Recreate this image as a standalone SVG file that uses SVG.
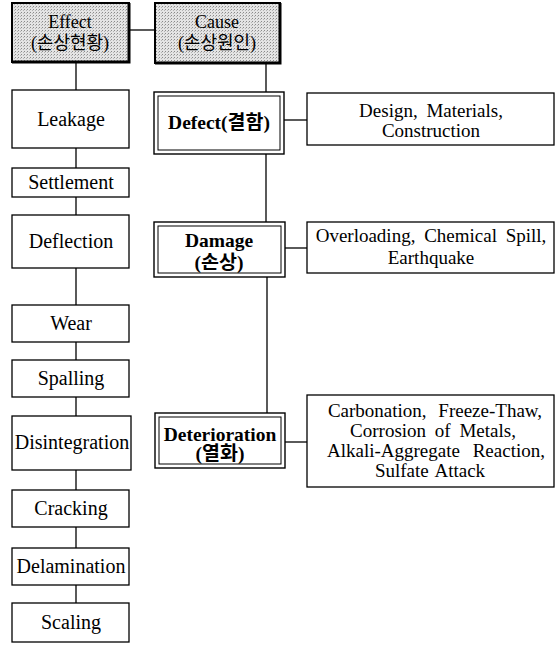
<svg xmlns="http://www.w3.org/2000/svg" width="560" height="651" viewBox="0 0 560 651">
<defs>
<pattern id="dots" width="3" height="3" patternUnits="userSpaceOnUse">
<rect width="3" height="3" fill="#e4e4e4"/>
<rect x="0" y="0" width="1" height="1" fill="#8a8a8a"/>
<rect x="2" y="1" width="1" height="1" fill="#b4b4b4"/>
</pattern>
</defs>
<style>
text{font-family:"Liberation Serif","Noto Sans CJK KR",serif;fill:#000;text-anchor:middle}
.t{font-size:20px}
.b{font-size:19.5px;font-weight:bold}
.r{font-size:19px;word-spacing:4px}
.h{font-size:18px}
.box{fill:#fff;stroke:#000;stroke-width:1.3}
.hdr{fill:url(#dots);stroke:#000;stroke-width:2}
.sh{stroke:#000;stroke-width:3;fill:none}
.dbl{fill:#fff;stroke:#000;stroke-width:1.4}
.in{fill:none;stroke:#000;stroke-width:1}
.c{stroke:#000;stroke-width:1.3;fill:none}
</style>
<g id="connectors">
<line class="c" x1="129" y1="30" x2="155" y2="30"/>
<line class="c" x1="76" y1="62" x2="76" y2="90"/>
<line class="c" x1="76" y1="148" x2="76" y2="168"/>
<line class="c" x1="76" y1="197" x2="76" y2="215"/>
<line class="c" x1="76" y1="268" x2="76" y2="305"/>
<line class="c" x1="76" y1="342" x2="76" y2="360"/>
<line class="c" x1="76" y1="397" x2="76" y2="416"/>
<line class="c" x1="76" y1="470" x2="76" y2="490"/>
<line class="c" x1="76" y1="527" x2="76" y2="548"/>
<line class="c" x1="76" y1="585" x2="76" y2="603"/>
<line class="c" x1="266" y1="63" x2="266" y2="92"/>
<line class="c" x1="266" y1="154" x2="266" y2="222"/>
<line class="c" x1="267" y1="277" x2="267" y2="413"/>
<line class="c" x1="284" y1="120" x2="307" y2="120"/>
<line class="c" x1="285" y1="248" x2="307" y2="248"/>
<line class="c" x1="285" y1="442" x2="307" y2="442"/>
</g>
<g id="effect">
<rect class="hdr" x="12" y="3" width="117" height="59"/>
<polyline class="sh" points="129,3 129,62 12,62"/>
<text class="h" x="70" y="28">Effect</text>
<text class="h" x="70" y="49">(손상현황)</text>
</g>
<g id="cause">
<rect class="hdr" x="155" y="3" width="125" height="60"/>
<polyline class="sh" points="280,3 280,63 155,63"/>
<text class="h" x="217" y="28">Cause</text>
<text class="h" x="217" y="49">(손상원인)</text>
</g>
<g id="leakage"><rect class="box" x="12" y="90" width="117" height="58"/><text class="t" x="71" y="126">Leakage</text></g>
<g id="settlement"><rect class="box" x="12" y="168" width="117" height="29"/><text class="t" x="71" y="189">Settlement</text></g>
<g id="deflection"><rect class="box" x="12" y="215" width="117" height="53"/><text class="t" x="71" y="248">Deflection</text></g>
<g id="wear"><rect class="box" x="12" y="305" width="117" height="37"/><text class="t" x="71" y="330">Wear</text></g>
<g id="spalling"><rect class="box" x="12" y="360" width="117" height="37"/><text class="t" x="71" y="385">Spalling</text></g>
<g id="disintegration"><rect class="box" x="12" y="416" width="119" height="54"/><text class="t" x="72" y="449">Disintegration</text></g>
<g id="cracking"><rect class="box" x="12" y="490" width="117" height="37"/><text class="t" x="71" y="515">Cracking</text></g>
<g id="delamination"><rect class="box" x="12" y="548" width="117" height="37"/><text class="t" x="71" y="573">Delamination</text></g>
<g id="scaling"><rect class="box" x="12" y="603" width="117" height="39"/><text class="t" x="71" y="629">Scaling</text></g>
<g id="defect">
<rect class="dbl" x="154" y="92" width="130" height="62"/>
<rect class="in" x="158" y="96" width="122" height="54"/>
<text class="b" x="219" y="129">Defect(결함)</text>
</g>
<g id="damage">
<rect class="dbl" x="154" y="222" width="131" height="55"/>
<rect class="in" x="158" y="226" width="123" height="47"/>
<text class="b" x="219" y="247">Damage</text>
<text class="b" x="219" y="269">(손상)</text>
</g>
<g id="deterioration">
<rect class="dbl" x="155" y="413" width="130" height="55"/>
<rect class="in" x="159" y="417" width="122" height="47"/>
<text class="b" x="220" y="441">Deterioration</text>
<text class="b" x="220" y="460">(열화)</text>
</g>
<g id="causes-defect">
<rect class="box" x="307" y="93" width="247" height="52"/>
<text class="r" x="431" y="117">Design, Materials,</text>
<text class="r" x="431" y="137">Construction</text>
</g>
<g id="causes-damage">
<rect class="box" x="307" y="222" width="247" height="51"/>
<text class="r" x="431" y="242">Overloading, Chemical Spill,</text>
<text class="r" x="431" y="264">Earthquake</text>
</g>
<g id="causes-deterioration">
<rect class="box" x="307" y="395" width="247" height="92"/>
<text class="r" x="435" y="417" style="word-spacing:7px">Carbonation, Freeze-Thaw,</text>
<text class="r" x="433" y="437">Corrosion of Metals,</text>
<text class="r" x="436" y="457" style="word-spacing:8px">Alkali-Aggregate Reaction,</text>
<text class="r" x="430" y="477" style="word-spacing:2px">Sulfate Attack</text>
</g>
</svg>
